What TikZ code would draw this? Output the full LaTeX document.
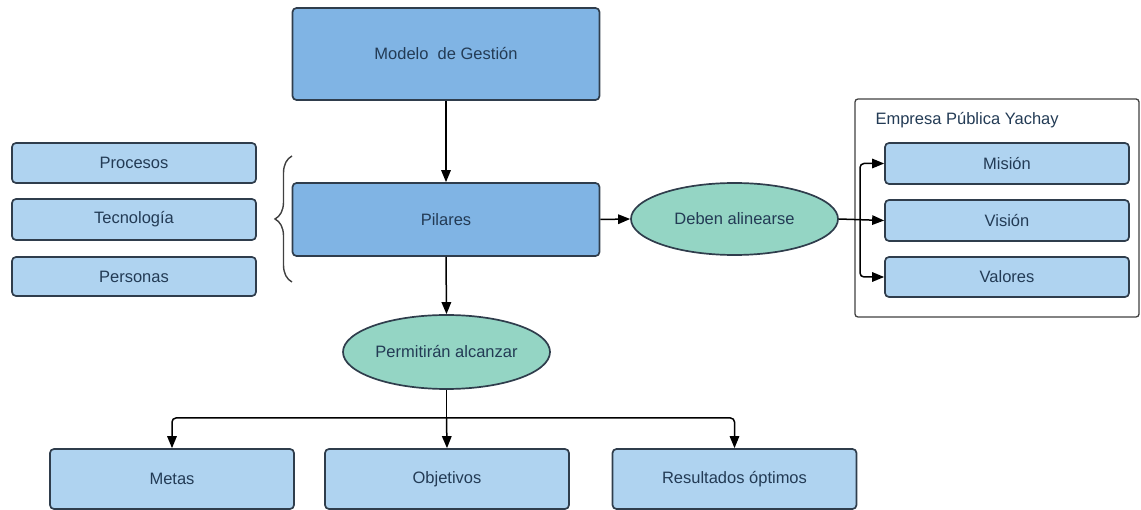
\documentclass[tikz,border=0pt]{standalone}
\usepackage{fontspec}
\setmainfont{Liberation Sans}
\usetikzlibrary{shapes.geometric,arrows.meta,decorations.pathreplacing}
\definecolor{boxdark}{HTML}{80B4E4}
\definecolor{boxlight}{HTML}{AFD3F0}
\definecolor{mint}{HTML}{94D5C4}
\definecolor{edge}{HTML}{2F3D4C}
\definecolor{ink}{HTML}{233B55}
\begin{document}
\begin{tikzpicture}[x=1pt,y=-1pt,
  every node/.style={font=\fontsize{16.5}{19}\selectfont, text=ink},
  base/.style={draw=edge, line width=1.7pt, rounded corners=4pt, inner sep=0pt},
  mainbox/.style={base, fill=boxdark, minimum width=307pt},
  itembox/.style={base, fill=boxlight, minimum width=244pt},
  oval/.style={ellipse, draw=edge, line width=1.7pt, fill=mint, inner sep=0pt, minimum width=207pt},
  arr/.style={draw=black, line width=1.5pt, -{Triangle[length=12pt,width=9.5pt]}},
  plain/.style={draw=black, line width=1.5pt}
]
\useasboundingbox (0,0) rectangle (1141,510);

% main column
\node[mainbox, minimum height=92pt] (modelo) at (446,54) {Modelo~~de Gestión};
\node[mainbox, minimum height=73pt] (pilares) at (446,219.5) {Pilares};

% pillars listed on the left
\node[itembox, minimum height=40pt] (procesos) at (134,163) {Procesos};
\node[itembox, minimum height=41pt] (tecno) at (134,219.5) {Tecnología};
\node[itembox, minimum height=39pt] (personas) at (134,276.5) {Personas};
\coordinate (bracetop) at (292,156);
\coordinate (bracebot) at (292,282);
\draw[decorate, decoration={brace, amplitude=17pt}, draw=black!75, line width=1.4pt]
  (bracebot) -- (bracetop);

% alignment branch
\node[oval, minimum height=72pt] (deben) at (734.5,219) {Deben alinearse};
\node[draw=black!75, line width=1.3pt, rounded corners=3pt, minimum width=284pt,
      minimum height=218pt, inner sep=0pt] (yachay) at (997,208) {};
\node[anchor=west] (ytitle) at (872,120) {Empresa Pública Yachay};
\node[itembox, minimum height=41pt] (mision) at (1007,163.5) {Misión};
\node[itembox, minimum height=41pt] (vision) at (1007,220.5) {Visión};
\node[itembox, minimum height=40pt] (valores) at (1007,277) {Valores};

% outcome branch
\node[oval, minimum height=74pt] (permite) at (446.5,352) {Permitirán alcanzar};
\node[itembox, minimum height=60pt] (metas) at (172,479) {Metas};
\node[itembox, minimum height=60pt] (objetivos) at (447,479) {Objetivos};
\node[itembox, minimum height=60pt] (resultados) at (734.5,479) {Resultados óptimos};

% connectors
\draw[arr] (modelo.south) -- (pilares.north);
\draw[arr] (pilares.east) -- (deben.west);
\coordinate (split) at (860,219);
\draw[arr] (deben.east) -- (vision.west);
\draw[arr, rounded corners=4pt] (split) |- (mision.west);
\draw[arr, rounded corners=4pt] (split) |- (valores.west);
\draw[arr] (pilares.south) -- (permite.north);
\coordinate (hub) at (446.5,418);
\draw[plain] (permite.south) -- (hub);
\draw[arr, rounded corners=4pt] (hub) -| (metas.north);
\draw[arr, rounded corners=4pt] (hub) -| (resultados.north);
\draw[arr] (hub) -- (objetivos.north);
\end{tikzpicture}
\end{document}
